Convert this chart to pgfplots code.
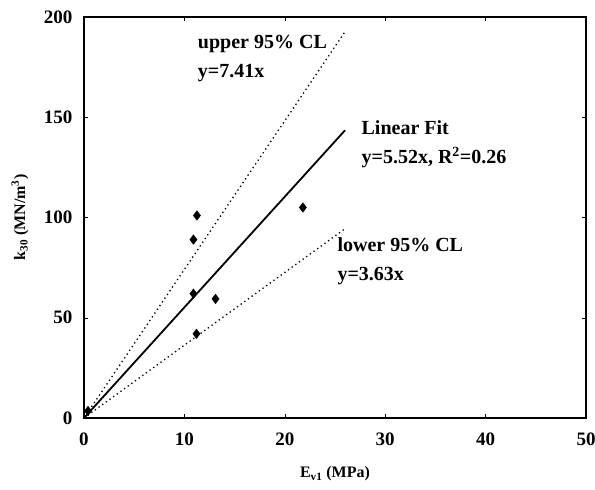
\documentclass[border=0pt]{standalone}
\usepackage{fontspec}
\setmainfont{Liberation Serif}
\usepackage{pgfplots}
\pgfplotsset{compat=1.18}
\begin{document}
\begin{tikzpicture}
\begin{axis}[
  scale only axis, width=502pt, height=401pt,
  xmin=0, xmax=50, ymin=0, ymax=200,
  xtick={0,10,20,30,40,50}, ytick={0,50,100,150,200},
  tick align=inside, major tick length=4pt,
  tick style={black, thin},
  axis line style={black, line width=1.1pt},
  /pgf/number format/assume math mode=true,
  ticklabel style={font=\fontsize{19}{22}\selectfont\bfseries},
  xticklabel style={yshift=-11pt},
  yticklabel style={xshift=-8pt},
  clip=false,
]
\addplot[only marks, mark=diamond*, mark size=4.8pt, black] coordinates {
  (11.25,101) (10.9,89) (10.9,62) (13.1,59.4) (11.2,42) (21.8,105) (0.4,3.5)
};
\addplot[black, line width=1.8pt] coordinates {(0,0) (26,143.5)};
\addplot[black, line width=1.3pt, dash pattern=on 1.3pt off 3.2pt] coordinates {(0,0) (26,192.7)};
\addplot[black, line width=1.3pt, dash pattern=on 1.3pt off 3.2pt] coordinates {(0,0) (26,94.4)};
\node[anchor=west, font=\fontsize{20}{23}\selectfont\bfseries, align=left] at (axis cs:11.0,179.5) {upper 95\% CL\\[6pt]y=7.41x};
\node[anchor=west, font=\fontsize{20}{23}\selectfont\bfseries, align=left] at (axis cs:27.3,136.5) {Linear Fit\\[6pt]y=5.52x, R\textsuperscript{2}=0.26};
\node[anchor=west, font=\fontsize{20}{23}\selectfont\bfseries, align=left] at (axis cs:24.9,78) {lower 95\% CL\\[6pt]y=3.63x};
\end{axis}
\node[rotate=90, font=\fontsize{16}{19}\selectfont\bfseries] at ([xshift=-64pt]current axis.west) {k\textsubscript{30} (MN/m\textsuperscript{3})};
\node[font=\fontsize{16}{19}\selectfont\bfseries] at ([yshift=-56pt]current axis.south) {E\textsubscript{v1} (MPa)};
\pgfresetboundingbox
\useasboundingbox ([shift={(-84pt,-72pt)}]current axis.south west) rectangle ([shift={(9pt,17pt)}]current axis.north east);
\end{tikzpicture}
\end{document}
